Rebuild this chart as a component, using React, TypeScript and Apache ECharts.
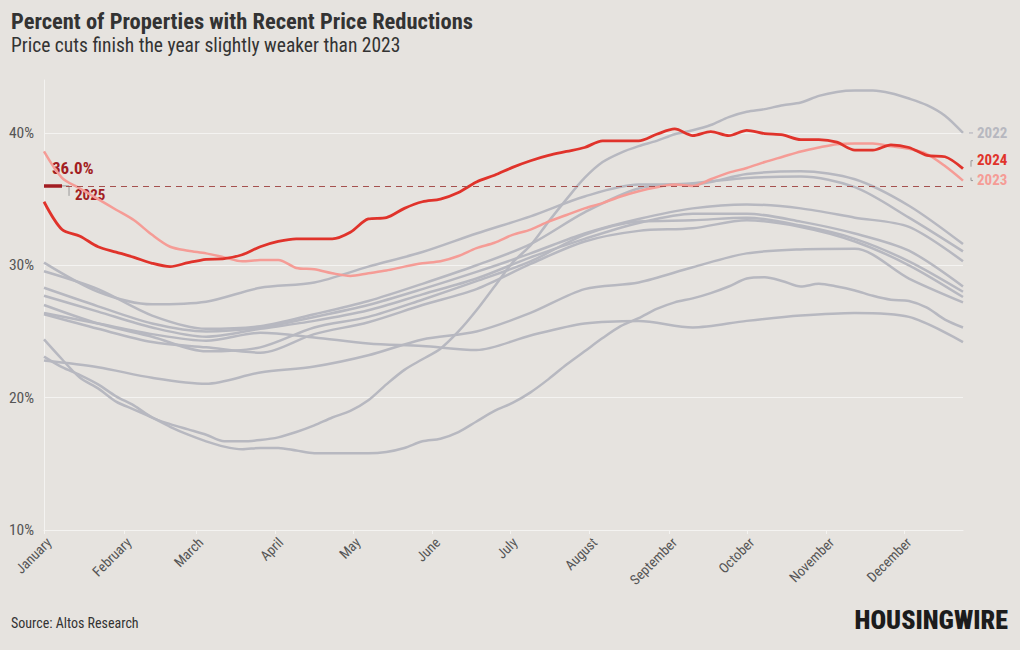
import React, { useEffect, useRef } from "react";
import * as echarts from "echarts";

const FONT = "'Roboto Condensed', 'Liberation Sans Narrow', 'Arial Narrow', Roboto, sans-serif";

const monthLabels = ["January", "February", "March", "April", "May", "June", "July", "August", "September", "October", "November", "December"];
const monthStartDays = [0, 31, 59, 90, 120, 151, 181, 212, 243, 273, 304, 334];
const yTickValues = [10, 20, 30, 40];

// x positions (day of year) of weekly and three-weekly readings
const weeklyDays = [0, 7, 14, 21, 28, 35, 42, 49, 56, 63, 70, 77, 84, 91, 98, 105, 112, 119, 126, 133, 140, 147, 154, 161, 168, 175, 182, 189, 196, 203, 210, 217, 224, 231, 238, 245, 252, 259, 266, 273, 280, 287, 294, 301, 308, 315, 322, 329, 336, 343, 350, 357];
const threeWeekDays = [0, 21, 42, 63, 84, 105, 126, 147, 168, 189, 210, 231, 252, 273, 294, 315, 336, 357];

const values2024 = [34.8, 32.7, 32.2, 31.4, 31.0, 30.6, 30.15, 29.9, 30.2, 30.45, 30.5, 30.8, 31.4, 31.8, 32.0, 32.0, 32.0, 32.5, 33.5, 33.6, 34.3, 34.8, 35.0, 35.5, 36.3, 36.8, 37.4, 37.9, 38.3, 38.6, 38.9, 39.4, 39.4, 39.4, 39.9, 40.3, 39.8, 40.1, 39.8, 40.2, 39.95, 39.85, 39.5, 39.5, 39.3, 38.7, 38.7, 39.1, 38.9, 38.3, 38.2, 37.3];
const values2023 = [38.6, 36.6, 35.8, 35.0, 34.2, 33.4, 32.3, 31.4, 31.1, 30.9, 30.6, 30.3, 30.4, 30.4, 29.8, 29.7, 29.4, 29.2, 29.4, 29.6, 29.9, 30.15, 30.3, 30.7, 31.3, 31.7, 32.3, 32.7, 33.3, 33.8, 34.3, 34.7, 35.2, 35.6, 35.9, 36.1, 36.0, 36.5, 37.0, 37.35, 37.8, 38.2, 38.6, 38.9, 39.15, 39.2, 39.2, 39.0, 38.8, 38.4, 37.5, 36.4];
const values2022 = [23.1, 22.3, 21.7, 21.0, 20.1, 19.4, 18.5, 18.0, 17.6, 17.2, 16.7, 16.7, 16.8, 17.0, 17.4, 17.9, 18.5, 19.0, 19.8, 21.0, 22.1, 22.9, 23.7, 25.0, 26.6, 28.4, 30.2, 31.5, 33.3, 35.0, 36.6, 37.8, 38.5, 39.0, 39.4, 39.9, 40.2, 40.6, 41.2, 41.6, 41.8, 42.1, 42.3, 42.8, 43.1, 43.2, 43.2, 43.0, 42.6, 42.1, 41.3, 40.0];
const valuesLowWeekly = [24.4, 22.9, 21.5, 20.7, 19.7, 19.1, 18.5, 17.8, 17.2, 16.7, 16.3, 16.1, 16.2, 16.2, 16.0, 15.8, 15.8, 15.8, 15.8, 15.9, 16.2, 16.7, 16.9, 17.4, 18.2, 19.0, 19.6, 20.4, 21.4, 22.5, 23.5, 24.5, 25.4, 26.0, 26.7, 27.2, 27.5, 27.9, 28.4, 29.0, 29.1, 28.8, 28.4, 28.6, 28.4, 28.1, 27.7, 27.4, 27.3, 26.8, 25.9, 25.3];

const grayA = [30.2, 28.0, 27.05, 27.25, 28.3, 28.7, 29.9, 31.0, 32.4, 33.7, 35.2, 36.1, 36.1, 36.9, 37.1, 36.5, 34.5, 31.6];
const grayB = [29.55, 28.2, 26.2, 25.2, 25.4, 26.3, 27.3, 28.6, 30.0, 31.6, 34.0, 35.8, 36.2, 36.6, 36.7, 35.9, 33.6, 31.05];
const grayC = [28.3, 26.9, 25.6, 25.0, 25.3, 26.1, 27.0, 28.2, 29.5, 30.9, 32.4, 33.5, 34.3, 34.6, 34.3, 33.6, 32.9, 30.3];
const grayD = [27.7, 26.5, 25.3, 24.6, 25.2, 25.8, 26.6, 27.8, 29.0, 30.6, 32.0, 33.2, 33.9, 33.9, 33.3, 32.4, 31.1, 28.4];
const grayE = [27.0, 25.6, 24.6, 23.5, 23.8, 25.3, 26.1, 27.4, 28.8, 30.3, 32.3, 33.3, 33.4, 33.6, 33.0, 32.0, 30.3, 28.0];
const grayF = [26.3, 25.2, 24.2, 23.8, 23.4, 24.8, 25.7, 27.0, 28.2, 30.1, 31.8, 32.6, 32.8, 33.4, 32.9, 31.8, 30.0, 27.6];
const grayG = [26.4, 25.6, 24.8, 24.3, 24.9, 24.55, 24.1, 23.9, 23.6, 24.7, 25.6, 25.8, 25.3, 25.8, 26.2, 26.4, 26.1, 24.2];
const grayH = [22.8, 22.3, 21.5, 21.05, 21.9, 22.35, 23.2, 24.4, 25.0, 26.4, 28.2, 28.7, 29.85, 30.9, 31.2, 31.25, 29.0, 27.2];

const current2025 = 36.0;
const current2025Days = [0, 7];

const GRAY = "#b7b8c0";
const RED = "#e0332b";
const PINK = "#f59c96";
const DARKRED = "#a21d22";
const BG = "#e6e3df";

const zip = (xs: number[], ys: number[]) => ys.map((v, i) => [xs[i], v]);

export default function App() {
  const ref = useRef<HTMLDivElement>(null);
  useEffect(() => {
    if (!ref.current) return;
    const chart = echarts.init(ref.current, null, { renderer: "svg" });
    const grayLine = (name: string, xs: number[], ys: number[]) => ({
      name,
      type: "line",
      data: zip(xs, ys),
      smooth: 0.3,
      symbol: "none",
      lineStyle: { color: GRAY, width: 2.5 },
      z: 2,
    });
    const option: any = {
      animation: false,
      backgroundColor: BG,
      grid: { left: 44, right: 57, top: 80, bottom: 120, containLabel: false },
      xAxis: {
        type: "value",
        min: 0,
        max: 357,
        axisLine: { show: true, lineStyle: { color: "#f4f3f1", width: 1 } },
        axisTick: { show: true, customValues: monthStartDays, length: 4, lineStyle: { color: "#f4f3f1" } },
        axisLabel: {
          customValues: monthStartDays,
          formatter: (v: number) => monthLabels[monthStartDays.indexOf(v)] ?? "",
          rotate: 45,
          verticalAlign: "top",
          color: "#555",
          fontSize: 14,
          fontFamily: FONT,
          margin: 5,
        },
        splitLine: { show: false },
      },
      yAxis: {
        type: "value",
        min: 10,
        max: 44,
        axisLine: { show: true, lineStyle: { color: "#f4f3f1", width: 1 } },
        axisTick: { show: false, customValues: yTickValues },
        axisLabel: {
          customValues: yTickValues,
          formatter: (v: number) => `${v}%`,
          color: "#555",
          fontSize: 15.5,
          fontFamily: FONT,
          margin: 10,
        },
        splitLine: { show: true, lineStyle: { color: "#f4f3f1", width: 1 } },
      },
      series: [
        grayLine("gA", threeWeekDays, grayA),
        grayLine("gB", threeWeekDays, grayB),
        grayLine("gC", threeWeekDays, grayC),
        grayLine("gD", threeWeekDays, grayD),
        grayLine("gE", threeWeekDays, grayE),
        grayLine("gF", threeWeekDays, grayF),
        grayLine("gG", threeWeekDays, grayG),
        grayLine("gH", threeWeekDays, grayH),
        grayLine("gLow", weeklyDays, valuesLowWeekly),
        grayLine("2022", weeklyDays, values2022),
        {
          name: "2023",
          type: "line",
          data: zip(weeklyDays, values2023),
          smooth: 0.3,
          symbol: "none",
          lineStyle: { color: PINK, width: 2.5 },
          z: 3,
        },
        {
          name: "2024",
          type: "line",
          data: zip(weeklyDays, values2024),
          smooth: 0.3,
          symbol: "none",
          lineStyle: { color: RED, width: 2.8 },
          z: 4,
        },
        {
          name: "2025",
          type: "line",
          data: current2025Days.map((d) => [d, current2025]),
          symbol: "none",
          lineStyle: { color: DARKRED, width: 3.5 },
          z: 5,
          markLine: {
            silent: true,
            symbol: "none",
            label: { show: false },
            lineStyle: { color: "#a5514f", type: [6, 5], width: 1 },
            data: [{ yAxis: current2025 }],
          },
        },
      ],
    };
    chart.setOption(option);

    const pt = (x: number, y: number) => chart.convertToPixel({ gridIndex: 0 }, [x, y]) as number[];
    const start25 = pt(current2025Days[0], current2025);
    const end25 = pt(current2025Days[1], current2025);
    const last = weeklyDays[weeklyDays.length - 1];
    const e22 = pt(last, values2022[values2022.length - 1]);
    const e24 = pt(last, values2024[values2024.length - 1]);
    const e23 = pt(last, values2023[values2023.length - 1]);
    const lx = e22[0];

    chart.setOption({
      graphic: [
        {
          type: "text",
          left: 11,
          top: 9,
          style: { text: "Percent of Properties with Recent Price Reductions", font: `bold 22.5px ${FONT}`, fill: "#333" },
        },
        {
          type: "text",
          left: 11,
          top: 35,
          style: { text: "Price cuts finish the year slightly weaker than 2023", font: `19.5px ${FONT}`, fill: "#333" },
        },
        {
          type: "text",
          x: start25[0] + 8,
          y: start25[1] - 18,
          style: { text: `${current2025.toFixed(1)}%`, font: `bold 17px ${FONT}`, fill: DARKRED, textVerticalAlign: "middle" },
        },
        {
          type: "polyline",
          shape: { points: [[end25[0], end25[1]], [end25[0] + 7, end25[1]], [end25[0] + 7, end25[1] + 10]] },
          style: { stroke: "#999", lineWidth: 1, fill: "none" },
        },
        {
          type: "text",
          x: end25[0] + 13,
          y: end25[1] + 9,
          style: { text: "2025", font: `bold 15px ${FONT}`, fill: DARKRED, textVerticalAlign: "middle" },
        },
        {
          type: "line",
          shape: { x1: lx + 6, y1: e22[1], x2: lx + 10, y2: e22[1] },
          style: { stroke: GRAY, lineWidth: 1.2 },
        },
        {
          type: "text",
          x: lx + 14,
          y: e22[1],
          style: { text: "2022", font: `bold 15px ${FONT}`, fill: GRAY, textVerticalAlign: "middle" },
        },
        {
          type: "polyline",
          shape: { points: [[lx + 8, e24[1] - 2], [lx + 8, e24[1] - 8], [lx + 10, e24[1] - 8]] },
          style: { stroke: "#999", lineWidth: 1, fill: "none" },
        },
        {
          type: "text",
          x: lx + 14,
          y: e24[1] - 9,
          style: { text: "2024", font: `bold 15px ${FONT}`, fill: RED, textVerticalAlign: "middle" },
        },
        {
          type: "polyline",
          shape: { points: [[lx + 8, e23[1] - 3], [lx + 8, e23[1]], [lx + 10, e23[1]]] },
          style: { stroke: "#999", lineWidth: 1, fill: "none" },
        },
        {
          type: "text",
          x: lx + 14,
          y: e23[1] - 1,
          style: { text: "2023", font: `bold 15px ${FONT}`, fill: PINK, textVerticalAlign: "middle" },
        },
        {
          type: "text",
          left: 11,
          top: 616,
          style: { text: "Source: Altos Research", font: `14px ${FONT}`, fill: "#333" },
        },
        {
          type: "text",
          right: 12,
          top: 607,
          style: { text: "HOUSINGWIRE", font: `900 26px ${FONT}`, fill: "#1c1c1c" },
        },
      ],
    });
    return () => chart.dispose();
  }, []);
  return <div ref={ref} style={{ position: "fixed", left: 0, top: 0, width: 1020, height: 650 }} />;
}
